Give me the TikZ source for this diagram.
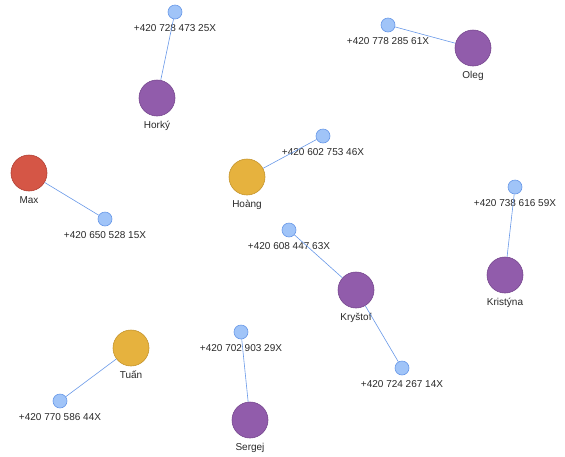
\documentclass[tikz,border=0pt]{standalone}
\usepackage{fontspec}
\setmainfont{Liberation Sans}
\definecolor{violet}{RGB}{145,92,171}
\definecolor{violetline}{RGB}{118,70,142}
\definecolor{brick}{RGB}{213,86,70}
\definecolor{brickline}{RGB}{178,62,50}
\definecolor{gold}{RGB}{230,178,62}
\definecolor{goldline}{RGB}{196,148,44}
\definecolor{phonefill}{RGB}{160,196,248}
\definecolor{phoneline}{RGB}{104,152,232}
\definecolor{tagtext}{RGB}{40,40,40}
\tikzset{
  person/.style={circle, minimum size=36pt, inner sep=0pt, line width=0.6pt,
    draw=#1line, fill=#1},
  phone/.style={circle, minimum size=14pt, inner sep=0pt, line width=0.6pt,
    draw=phoneline, fill=phonefill},
  tag/.style={font=\fontsize{10}{12}\selectfont, text=tagtext, inner sep=0pt,
    text height=7.5pt, text depth=2pt},
  link/.style={draw=phoneline, line width=0.6pt},
  every label/.style={tag}
}
\begin{document}
\begin{tikzpicture}[x=1pt, y=-1pt, label distance=4.5pt]
\useasboundingbox (0,0) rectangle (565,456);
% people
\node[person=violet, label=below:Horký] (horky) at (157,98) {};
\node[person=violet, label=below:Oleg] (oleg) at (473,48) {};
\node[person=gold, label=below:Hoàng] (hoang) at (247,177) {};
\node[person=brick, label=below:Max] (max) at (29,173) {};
\node[person=violet, label=below:Kristýna] (kristyna) at (505,275) {};
\node[person=violet, label=below:Kryštof] (krystof) at (356,290) {};
\node[person=gold, label=below:Tuấn] (tuan) at (131,348) {};
\node[person=violet, label=below:Sergej] (sergej) at (250,420) {};
% phone numbers
\node[phone, label=below:{+420 728 473 25X}] (p25) at (175,12) {};
\node[phone, label=below:{+420 778 285 61X}] (p61) at (388,25) {};
\node[phone, label=below:{+420 602 753 46X}] (p46) at (323,136) {};
\node[phone, label=below:{+420 650 528 15X}] (p15) at (105,219) {};
\node[phone, label=below:{+420 738 616 59X}] (p59) at (515,187) {};
\node[phone, label=below:{+420 608 447 63X}] (p63) at (289,230) {};
\node[phone, label=below:{+420 724 267 14X}] (p14) at (402,368) {};
\node[phone, label=below:{+420 770 586 44X}] (p44) at (60,401) {};
\node[phone, label=below:{+420 702 903 29X}] (p29) at (241,332) {};
% links
\draw[link] (horky) -- (p25);
\draw[link] (oleg) -- (p61);
\draw[link] (hoang) -- (p46);
\draw[link] (max) -- (p15);
\draw[link] (kristyna) -- (p59);
\draw[link] (krystof) -- (p63);
\draw[link] (krystof) -- (p14);
\draw[link] (tuan) -- (p44);
\draw[link] (sergej) -- (p29);
\end{tikzpicture}
\end{document}
